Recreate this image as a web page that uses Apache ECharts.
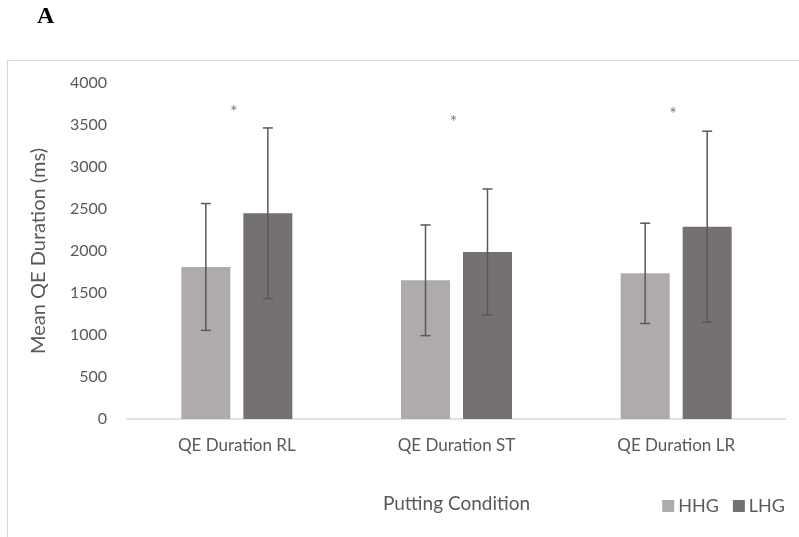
<!DOCTYPE html>
<html><head><meta charset="utf-8">
<script src="https://cdn.jsdelivr.net/npm/echarts@6/dist/echarts.min.js"></script>
<style>html,body{margin:0;padding:0;background:#fff}#c{width:799px;height:537px}</style>
</head><body><div id="c"></div>
<script>
const categories = ['QE Duration RL', 'QE Duration ST', 'QE Duration LR'];
const seriesNames = ['HHG', 'LHG'];
const hhgMean = [1810, 1651, 1734];
const hhgSD = [755, 659, 597];
const lhgMean = [2449, 1988, 2290];
const lhgSD = [1016, 750, 1136];
const sigMarkers = [3714, 3595, 3687];
const yTicks = { min: 0, max: 4000, interval: 500 };

const colors = ['#AFABAB', '#767171'];
const textColor = '#595959';
const font = 'Lato';
const barW = 49, gapPx = 13;

function errData(mean, sd) {
  return mean.map((m, i) => [i, m - sd[i], m + sd[i]]);
}
function errSeries(mean, sd, sign) {
  return {
    type: 'custom', z: 10, silent: true,
    data: errData(mean, sd),
    renderItem: function (params, api) {
      const off = sign * (barW + gapPx) / 2;
      const lo = api.coord([api.value(0), api.value(1)]);
      const hi = api.coord([api.value(0), api.value(2)]);
      const x = lo[0] + off, cap = 5;
      const st = { stroke: '#595959', lineWidth: 1.5 };
      return { type: 'group', children: [
        { type: 'line', shape: { x1: x, y1: lo[1], x2: x, y2: hi[1] }, style: st },
        { type: 'line', shape: { x1: x - cap, y1: lo[1], x2: x + cap, y2: lo[1] }, style: st },
        { type: 'line', shape: { x1: x - cap, y1: hi[1], x2: x + cap, y2: hi[1] }, style: st }
      ]};
    }
  };
}

const chart = echarts.init(document.getElementById('c'), null, { renderer: 'canvas' });
chart.setOption({
  animation: false,
  textStyle: { fontFamily: font, color: textColor },
  graphic: [
    { type: 'rect', shape: { x: 7.5, y: 60.5, width: 900, height: 600 },
      style: { fill: 'none', stroke: '#D9D9D9', lineWidth: 1.2 }, z: -10 },
    { type: 'text', left: 37, top: 5,
      style: { text: 'A', font: 'bold 24px "Liberation Serif", "Times New Roman", serif', fill: '#000' } }
  ],
  legend: {
    data: seriesNames, right: 9, top: 492, itemWidth: 12, itemHeight: 12, itemGap: 14,
    icon: 'rect', textStyle: { fontFamily: font, fontSize: 18, color: textColor, padding: [0, 0, 0, -1] }
  },
  grid: { left: 127, right: 13, top: 83, bottom: 118 },
  xAxis: {
    type: 'category', data: categories,
    name: 'Putting Condition', nameLocation: 'middle', nameGap: 75,
    nameTextStyle: { fontFamily: font, fontSize: 19, color: textColor },
    axisLine: { lineStyle: { color: '#D9D9D9', width: 1.5 } },
    axisTick: { show: false },
    axisLabel: { fontFamily: font, fontSize: 17, color: textColor, margin: 18 }
  },
  yAxis: {
    type: 'value', min: yTicks.min, max: yTicks.max, interval: yTicks.interval,
    name: 'Mean QE Duration (ms)', nameLocation: 'middle', nameGap: 78,
    nameTextStyle: { fontFamily: font, fontSize: 20, color: textColor },
    axisLine: { show: false }, axisTick: { show: false }, splitLine: { show: false },
    axisLabel: { fontFamily: font, fontSize: 16, color: textColor, margin: 20,
      formatter: function (v) { return String(v); } }
  },
  series: [
    { name: seriesNames[0], type: 'bar', data: hhgMean, barWidth: barW, barGap: (gapPx / barW * 100) + '%',
      itemStyle: { color: colors[0] } },
    { name: seriesNames[1], type: 'bar', data: lhgMean, barWidth: barW,
      itemStyle: { color: colors[1] } },
    errSeries(hhgMean, hhgSD, -1),
    errSeries(lhgMean, lhgSD, 1),
    { type: 'scatter', data: sigMarkers, symbolSize: 0, silent: true,
      label: { show: true, position: 'inside', offset: [-3, 5], formatter: '*', fontSize: 18, color: textColor, fontFamily: font } }
  ]
});
</script></body></html>
